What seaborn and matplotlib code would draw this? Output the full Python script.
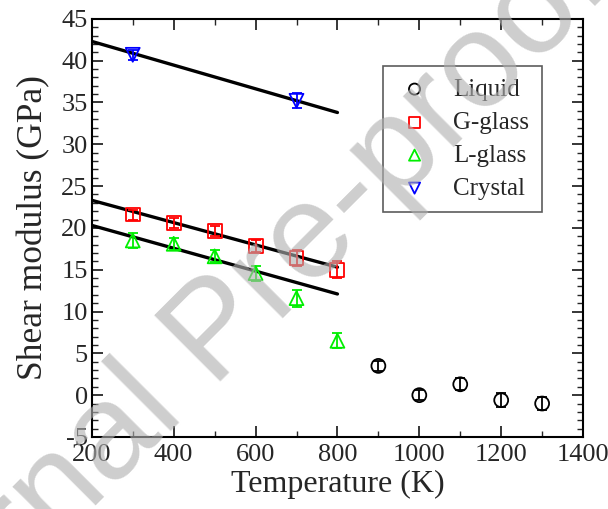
import numpy as np
import pandas as pd
import matplotlib
matplotlib.use("Agg")
import matplotlib.pyplot as plt
import seaborn as sns
from matplotlib.ticker import MultipleLocator

# ---- data ----
liquid_T = [900, 1000, 1100, 1200, 1300]
liquid_G = [3.5, 0.0, 1.3, -0.6, -1.0]
liquid_err = [0.6, 0.6, 0.7, 0.8, 0.8]

gglass_T = [300, 400, 500, 600, 700, 800]
gglass_G = [21.6, 20.6, 19.6, 17.8, 16.4, 15.0]
gglass_err = [0.6, 0.6, 0.6, 0.7, 0.9, 1.0]

lglass_T = [300, 400, 500, 600, 700, 800]
lglass_G = [18.5, 18.1, 16.6, 14.6, 11.6, 6.5]
lglass_err = [0.9, 0.7, 0.7, 0.9, 1.0, 0.9]

crystal_T = [300, 700]
crystal_G = [40.7, 35.2]
crystal_err = [0.6, 0.9]

fit_T = [200, 800]
fit_crystal = [42.3, 33.8]
fit_gglass = [23.3, 15.3]
fit_lglass = [20.3, 12.1]

sns.set_style("ticks")
plt.rcParams['font.family'] = ['Liberation Serif', 'DejaVu Serif']
plt.rcParams['axes.unicode_minus'] = False

fig = plt.figure(figsize=(6.08, 5.09), dpi=100)
ax = fig.add_axes([0.151, 0.1415, 0.808, 0.8215])

# fit lines
for yv in (fit_crystal, fit_gglass, fit_lglass):
    sns.lineplot(x=fit_T, y=yv, ax=ax, color='black', lw=2.4, zorder=2)

series = [
    ("Liquid", liquid_T, liquid_G, liquid_err, 'o', 'black'),
    ("G-glass", gglass_T, gglass_G, gglass_err, 's', 'red'),
    ("L-glass", lglass_T, lglass_G, lglass_err, '^', '#00ee00'),
    ("Crystal", crystal_T, crystal_G, crystal_err, 'v', 'blue'),
]
for name, T, G, e, m, c in series:
    ax.errorbar(T, G, yerr=e, fmt='none', ecolor=c, elinewidth=1.3,
                capsize=3.5, capthick=1.3, zorder=3)
    sns.scatterplot(x=T, y=G, ax=ax, marker=m, s=100, facecolor='none',
                    edgecolor=c, linewidth=1.3, label=name, zorder=4)

ax.set_xlim(200, 1400)
ax.set_ylim(-5, 45)
ax.xaxis.set_major_locator(MultipleLocator(200))
ax.xaxis.set_minor_locator(MultipleLocator(100))
ax.yaxis.set_major_locator(MultipleLocator(5))
ax.yaxis.set_minor_locator(MultipleLocator(1))
ax.tick_params(which='both', direction='in', top=True, right=True,
               labelsize=19)
ax.tick_params(axis='x', pad=5)
ax.tick_params(axis='y', pad=3)
ax.tick_params(which='major', length=8, width=1.3)
ax.tick_params(which='minor', length=4, width=1.0)
for s in ax.spines.values():
    s.set_linewidth(1.5)
    s.set_color('black')

ax.set_xlabel("Temperature (K)", fontsize=23, labelpad=3)
ax.set_ylabel("Shear modulus (GPa)", fontsize=25.5, labelpad=8)

leg = ax.legend(loc='upper right', bbox_to_anchor=(0.916, 0.888), fontsize=18,
                frameon=True, fancybox=False, edgecolor='#333333',
                handletextpad=0.8, borderpad=0.5, labelspacing=0.42,
                handlelength=1.5, markerscale=0.8, borderaxespad=0)
leg.get_frame().set_linewidth(1.2)

# watermark
fig.text(0.358, 0.342, "Journal Pre-proof", fontsize=98, family='Liberation Sans',
         color='#b0b0b0', alpha=0.62, rotation=45,
         ha='center', va='center', rotation_mode='anchor', zorder=10)

fig.savefig("out.png", dpi=100)
